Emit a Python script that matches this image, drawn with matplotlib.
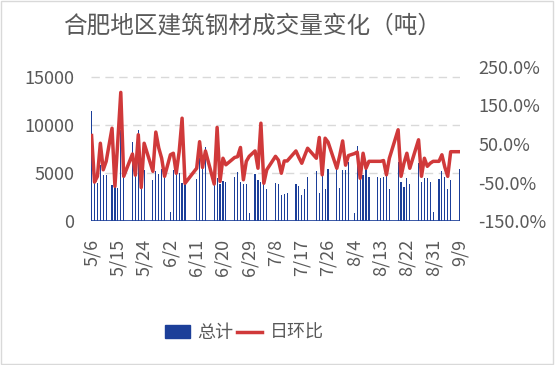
import numpy as np
import matplotlib
matplotlib.use("Agg")
import matplotlib.pyplot as plt
from matplotlib.patches import Patch, Rectangle
from matplotlib.lines import Line2D

plt.rcParams['font.family'] = ['Noto Sans CJK SC', 'DejaVu Sans']
plt.rcParams['font.weight'] = 'light'

# daily volume (tons), day 0 = 5/6 ... day 126 = 9/9; 0 = no trading record
volume = [
    11400, 5800, 3900, 5850, 4800, 4750, 0, 3700, 3600, 3450,
    9500, 4700, 0, 0, 8190, 4800, 9500, 3400, 5300, 0,
    0, 4250, 5150, 4850, 5400, 4450, 0, 900, 5300, 5300,
    4950, 3930, 3830, 0, 0, 0, 4350, 6540, 6200, 7660,
    0, 0, 3690, 4500, 3800, 4200, 4100, 0, 0, 4600,
    5130, 4080, 3800, 3800, 870, 0, 4920, 4300, 4020, 3800,
    3370, 0, 0, 3900, 3880, 2750, 2800, 2960, 0, 0,
    3880, 3590, 2750, 3350, 4550, 0, 0, 5170, 2920, 4910,
    3350, 5370, 0, 0, 5450, 3380, 5270, 5270, 6100, 0,
    870, 7780, 4370, 4820, 5520, 4540, 0, 0, 4520, 4450,
    4520, 5040, 3300, 0, 0, 6120, 4030, 3580, 4450, 3820,
    0, 0, 6020, 4030, 4450, 4450, 4100, 900, 0, 4350,
    5150, 4620, 3300, 4240, 0, 0, 5420,
]

# day-over-day change (%), only on days with a record
change_days = [
    0, 1, 2, 3, 4, 5, 7, 8, 9, 10, 11, 14, 15, 16, 17, 18, 21, 22, 23, 24,
    25, 27, 28, 29, 30, 31, 32, 36, 37, 38, 39, 42, 43, 44, 45, 46, 49, 50, 51, 52,
    53, 54, 56, 57, 58, 59, 60, 63, 64, 65, 66, 67, 70, 71, 72, 73, 74, 77, 78, 79,
    80, 81, 84, 85, 86, 87, 88, 90, 91, 92, 93, 94, 95, 98, 99, 100, 101, 102, 105, 106,
    107, 108, 109, 112, 113, 114, 115, 116, 117, 119, 120, 121, 122, 123, 126,
]
change = [
    72, -49, -34, 52, -17, 5, 91, -60, 60, 184, -34, 24, -31, 74, -63, 52, -21, 81, 40, 13,
    -34, 22, 26, -26, 30, 117, -52, -13, 56, -11, 32, -54, 93, -47, 13, -4, 15, 17, 41, -43,
    5, 18, 32, -13, 104, -52, -17, 18, 8, -26, 6, 6, 32, 15, 0, 20, 39, 13, 67, -30,
    65, 55, -13, 20, 58, -5, 20, 25, 29, -39, 26, -13, 5, 5, 5, 7, -30, 13, 87, -34,
    0, 26, -13, 61, -34, 13, -8, 0, 5, 5, 22, -10, -34, 30, 30,
]

tick_days = list(range(0, 127, 9))
tick_labels = ['5/6', '5/15', '5/24', '6/2', '6/11', '6/20', '6/29', '7/8',
               '7/17', '7/26', '8/4', '8/13', '8/22', '8/31', '9/9']

text_color = '#595959'
bar_color = '#1c3f99'
line_color = '#d0393a'

fig = plt.figure(figsize=(5.55, 3.65), dpi=100)
ax = fig.add_axes([91 / 555, 1 - 221 / 365, 369 / 555, 154 / 365])
ax2 = ax.twinx()

days = np.arange(len(volume))
ax.bar(days, volume, width=0.4, color=bar_color, zorder=2)
ax2.plot(change_days, change, color=line_color, lw=2.5, zorder=3)

ax.set_xlim(-0.2, 126.2)
ax.set_ylim(0, 16000)
ax.set_yticks([0, 5000, 10000, 15000])
ax.set_yticklabels(['0', '5000', '10000', '15000'])
ax2.set_ylim(-150, 250)
ax2.set_yticks([-150, -50, 50, 150, 250])
ax2.set_yticklabels([f'{v:.1f}%' for v in [-150, -50, 50, 150, 250]])

ax.set_xticks(tick_days)
ax.set_xticklabels(tick_labels, rotation=90)

for a in (ax, ax2):
    for side in ('left', 'right', 'top', 'bottom'):
        a.spines[side].set_visible(False)
ax.axhline(0, color=bar_color, lw=1.2, zorder=4)

ax.grid(axis='y', color='#d9d9d9', linestyle=(0, (6, 4)), lw=1)
ax.set_axisbelow(True)
ax.tick_params(axis='y', length=0, pad=12, labelsize=13, labelcolor=text_color)
ax.tick_params(axis='x', length=0, pad=13, labelsize=13, labelcolor=text_color)
ax2.tick_params(axis='y', length=0, pad=13, labelsize=13, labelcolor=text_color)

fig.text(0.455, 1 - 26 / 365, '合肥地区建筑钢材成交量变化（吨）', ha='center', va='center',
         fontsize=17, color=text_color)

handles = [Patch(color=bar_color), Line2D([0], [0], color=line_color, lw=2.5)]
fig.legend(handles, ['总计', '日环比'], loc='center', bbox_to_anchor=(0.44, 1 - 333 / 365),
           ncol=2, frameon=False, fontsize=13, handlelength=1.4, handletextpad=0.4,
           columnspacing=0.2, labelcolor=text_color)

fig.patches.append(Rectangle((0.002, 0.003), 0.995, 0.994, transform=fig.transFigure,
                             fill=False, edgecolor='#d9d9d9', lw=1))

fig.savefig('out.png', dpi=100)
